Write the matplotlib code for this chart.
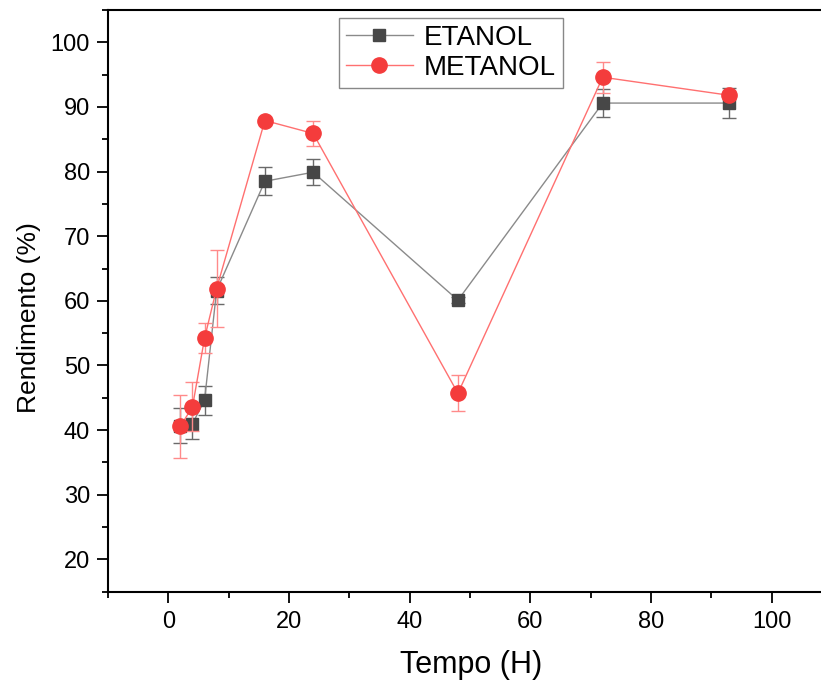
import matplotlib
matplotlib.use("Agg")
import matplotlib.pyplot as plt
from matplotlib.ticker import MultipleLocator
from matplotlib.lines import Line2D

plt.rcParams['font.family'] = ['Liberation Sans', 'DejaVu Sans']

# Reaction time (h)
tempo = [2, 4, 6, 8, 16, 24, 48, 72, 93]

# Yield (%) and standard deviation for each alcohol
etanol = [40.7, 41.0, 44.6, 61.6, 78.5, 79.9, 60.1, 90.6, 90.6]
etanol_err = [2.7, 2.3, 2.3, 2.1, 2.2, 2.0, 0.5, 2.2, 2.3]
metanol = [40.6, 43.6, 54.2, 61.9, 87.9, 85.9, 45.7, 94.6, 91.8]
metanol_err = [4.9, 3.8, 2.3, 5.9, 0.4, 1.9, 2.8, 2.4, 0.5]

et_style = dict(color='#8a8a8a', lw=1.0, marker='s', ms=9,
                mfc='#474747', mec='#474747')
me_style = dict(color='#ff7070', lw=1.0, marker='o', ms=11,
                mfc='#f43c3c', mec='#f43c3c')

fig = plt.figure(figsize=(8.21, 6.84), dpi=100)
ax = fig.add_axes([108 / 821, 92.3 / 684, (832 - 108) / 821, (591.7 - 10) / 684])

ax.errorbar(tempo, etanol, yerr=etanol_err, ecolor='#6a6a6a',
            elinewidth=1.0, capsize=5, capthick=1.0, zorder=2, **et_style)
ax.errorbar(tempo, metanol, yerr=metanol_err, ecolor='#ff8a8a',
            elinewidth=1.0, capsize=5, capthick=1.0, zorder=3, **me_style)

ax.set_xlim(-10, 110)
ax.set_ylim(15, 105)
ax.xaxis.set_major_locator(MultipleLocator(20))
ax.xaxis.set_minor_locator(MultipleLocator(10))
ax.yaxis.set_minor_locator(MultipleLocator(5))
ax.set_yticks(range(20, 101, 10))

for s in ax.spines.values():
    s.set_linewidth(1.5)

ax.tick_params(which='major', direction='out', length=8, width=1.3,
               labelsize=17, pad=5)
ax.tick_params(which='minor', direction='out', length=4, width=1.3)
ax.tick_params(axis='x', which='major', pad=6)

ax.set_xlabel('Tempo (H)', fontsize=22)
ax.set_ylabel('Rendimento (%)', fontsize=19)
# label placement in axes fraction
ax.xaxis.set_label_coords((471 - 108) / (832 - 108), (591.7 - 650) / 581.7)
ax.yaxis.set_label_coords((41 - 108) / (832 - 108), (591.7 - 318) / 581.7)

handles = [Line2D([], [], **et_style), Line2D([], [], **me_style)]
leg = ax.legend(handles, ['ETANOL', 'METANOL'], loc='upper left',
                bbox_to_anchor=(339 / 821, 1 - 18 / 684),
                bbox_transform=fig.transFigure, borderaxespad=0,
                fontsize=20, handlelength=2.4, handletextpad=0.4,
                borderpad=0.25, labelspacing=0.15, fancybox=False,
                framealpha=1, edgecolor='#888888')
leg.get_frame().set_linewidth(1.0)

fig.savefig('out.png', dpi=100)
